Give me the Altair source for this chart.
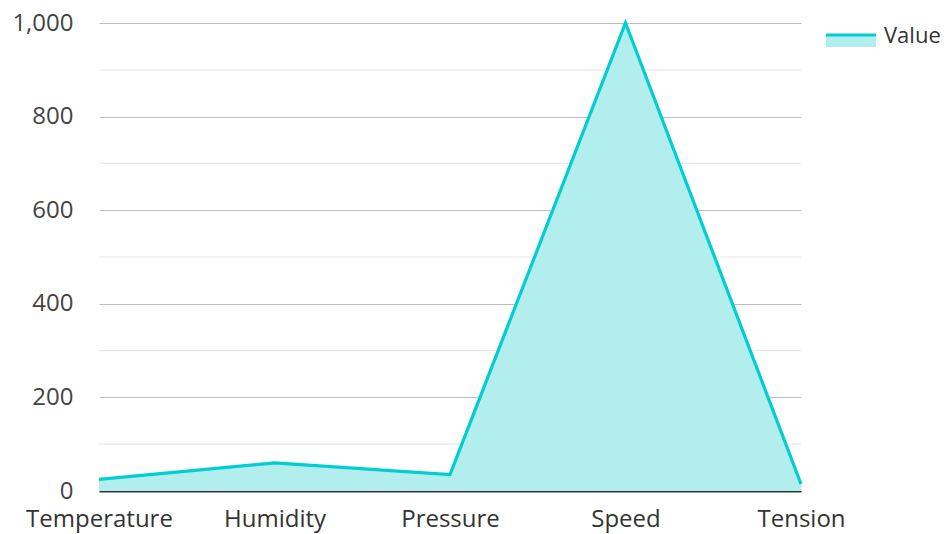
import altair as alt
import pandas as pd

categories = ["Temperature", "Humidity", "Pressure", "Speed", "Tension"]
values = [25, 60, 35, 1000, 15]
major_ticks = [0, 200, 400, 600, 800, 1000]
minor_ticks = [100, 300, 500, 700, 900]
series_name = "Value"

df = pd.DataFrame({"category": categories, "value": values})
minor_df = pd.DataFrame({"value": minor_ticks})
legend_df = pd.DataFrame({"label": [series_name]})

FONT = "Open Sans"
LINE = "#00CED1"
FILL = "#B2EEEE"
FS = 24

x_enc = alt.X(
    "category:N",
    sort=categories,
    scale=alt.Scale(type="point", padding=0),
    axis=alt.Axis(
        title=None, labelAngle=0, ticks=False, grid=False,
        domainColor="#333333", domainWidth=2,
        labelFont=FONT, labelFontSize=FS, labelColor="#333333", labelPadding=16,
    ),
)
y_axis = alt.Axis(
    title=None, values=major_ticks, format=",d", ticks=False, domain=False,
    gridColor="#BDBDBD", gridWidth=1.2,
    labelFont=FONT, labelFontSize=FS, labelColor="#444444", labelPadding=26,
)
y_scale = alt.Scale(domain=[0, 1000], nice=False)

minor = alt.Chart(minor_df).mark_rule(color="#E8E8E8", strokeWidth=1.2).encode(
    y=alt.Y("value:Q", scale=y_scale, axis=y_axis)
)

area = alt.Chart(df).mark_area(
    color=FILL, line={"color": LINE, "strokeWidth": 3.2}, opacity=1
).encode(x=x_enc, y=alt.Y("value:Q", scale=y_scale, axis=y_axis))

legend_fill = alt.Chart(legend_df).mark_rect(color=FILL).encode(
    x=alt.value(727), x2=alt.value(777), y=alt.value(12), y2=alt.value(24)
)
legend_line = alt.Chart(legend_df).mark_rule(color=LINE, strokeWidth=3).encode(
    x=alt.value(727), x2=alt.value(777), y=alt.value(12)
)
legend_text = alt.Chart(legend_df).mark_text(
    align="left", baseline="middle", font=FONT, fontSize=22, color="#333333"
).encode(x=alt.value(785), y=alt.value(13), text="label:N")

chart = alt.layer(minor, area, legend_fill, legend_line, legend_text).properties(
    width=702, height=468,
    padding={"left": 91, "top": 15, "right": 142, "bottom": 45},
    autosize=alt.AutoSizeParams(type="none"),
).configure_view(stroke=None).resolve_scale(y="shared")

chart.save("out.html", embed_options={"renderer": "svg", "actions": False})
